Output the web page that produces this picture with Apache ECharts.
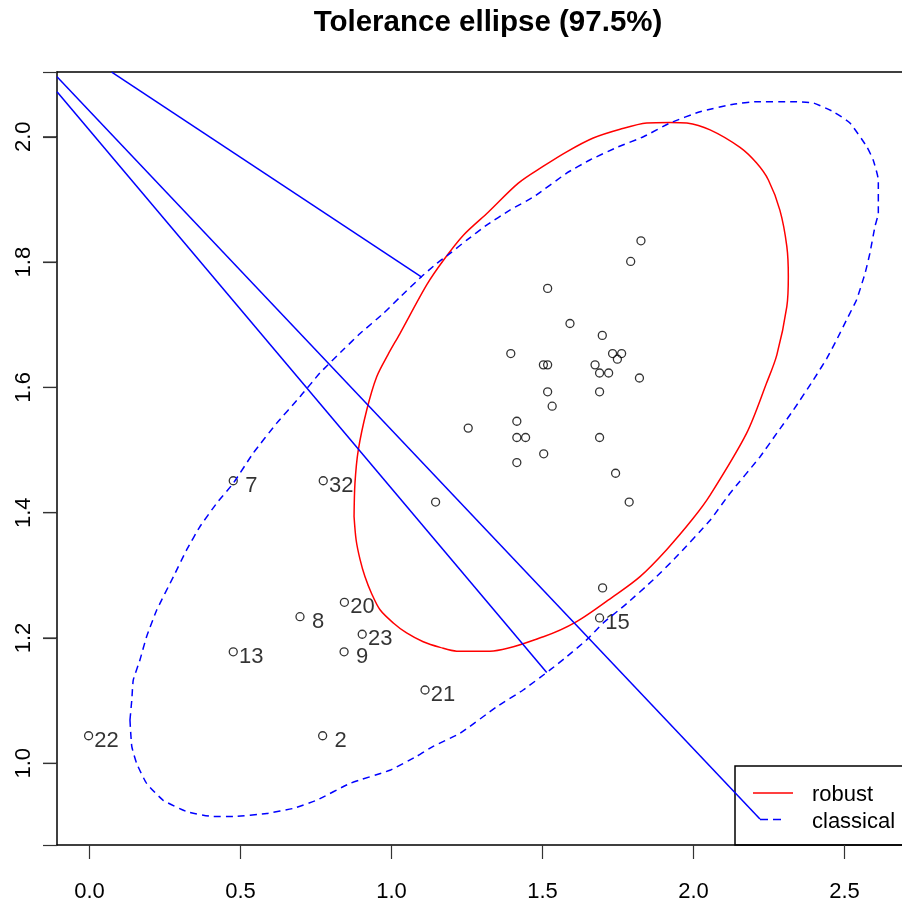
<!DOCTYPE html>
<html>
<head>
<meta charset="utf-8">
<title>Tolerance ellipse (97.5%)</title>
<script src="https://cdn.jsdelivr.net/npm/echarts@6/dist/echarts.min.js"></script>
<style>
html, body { margin: 0; padding: 0; background: #fff; }
#chart { width: 902px; height: 902px; }
</style>
</head>
<body>
<div id="chart"></div>
<script>
// tick positions
const xTicks = [0, 0.5, 1.0, 1.5, 2.0, 2.5];
const yTicks = [1.0, 1.2, 1.4, 1.6, 1.8, 2.0];

// observations without a label
const pointsPlain = [
    [1.826, 1.834], [1.792, 1.801], [1.517, 1.758], [1.591, 1.702], [1.698, 1.683],
    [1.395, 1.654], [1.732, 1.654], [1.762, 1.654], [1.748, 1.645], [1.503, 1.636],
    [1.517, 1.636], [1.674, 1.636], [1.689, 1.623], [1.719, 1.623], [1.821, 1.615],
    [1.517, 1.593], [1.689, 1.593], [1.532, 1.570], [1.415, 1.546], [1.254, 1.535],
    [1.415, 1.520], [1.444, 1.520], [1.689, 1.520], [1.504, 1.494], [1.415, 1.480],
    [1.742, 1.463], [1.146, 1.417], [1.787, 1.417], [1.699, 1.280]
];

// flagged observations: x, y, id
const pointsFlagged = [
    [0.476, 1.451, '7'], [0.774, 1.451, '32'], [0.844, 1.257, '20'], [0.697, 1.234, '8'],
    [0.903, 1.206, '23'], [0.476, 1.178, '13'], [0.843, 1.178, '9'], [1.111, 1.117, '21'],
    [-0.003, 1.044, '22'], [0.772, 1.044, '2'], [1.689, 1.232, '15']
];

// robust ellipse outline
const robustEllipse = [
    [0.876, 1.394], [0.879, 1.447], [0.890, 1.500], [0.918, 1.564], [0.951, 1.617],
    [0.988, 1.652], [1.028, 1.686], [1.117, 1.764], [1.172, 1.803], [1.238, 1.843],
    [1.321, 1.880], [1.420, 1.926], [1.503, 1.953], [1.580, 1.976], [1.668, 1.998],
    [1.757, 2.012], [1.845, 2.022], [1.922, 2.023], [1.978, 2.022], [2.055, 2.011],
    [2.154, 1.983], [2.209, 1.958], [2.248, 1.931], [2.286, 1.883], [2.309, 1.825],
    [2.314, 1.777], [2.309, 1.729], [2.276, 1.652], [2.242, 1.607], [2.176, 1.527],
    [2.055, 1.428], [1.999, 1.391], [1.911, 1.341], [1.823, 1.298], [1.734, 1.266],
    [1.613, 1.226], [1.503, 1.202], [1.326, 1.179], [1.216, 1.179], [1.161, 1.185],
    [1.105, 1.194], [1.050, 1.208], [1.006, 1.224], [0.962, 1.245], [0.934, 1.271],
    [0.912, 1.298], [0.896, 1.325], [0.883, 1.356], [0.876, 1.394]
];

// classical ellipse outline
const classicalEllipse = [
    [0.134, 1.069], [0.140, 1.101], [0.145, 1.133], [0.167, 1.165], [0.189, 1.202],
    [0.223, 1.245], [0.278, 1.298], [0.322, 1.341], [0.366, 1.378], [0.421, 1.415],
    [0.476, 1.447], [0.542, 1.495], [0.620, 1.543], [0.697, 1.585], [0.763, 1.623],
    [0.840, 1.660], [0.896, 1.686], [0.973, 1.718], [1.028, 1.744], [1.100, 1.777],
    [1.150, 1.798], [1.194, 1.814], [1.249, 1.835], [1.315, 1.859], [1.392, 1.883],
    [1.470, 1.904], [1.580, 1.942], [1.657, 1.963], [1.746, 1.983], [1.834, 2.000],
    [1.922, 2.022], [2.022, 2.040], [2.132, 2.052], [2.209, 2.056], [2.331, 2.056],
    [2.397, 2.054], [2.463, 2.040], [2.518, 2.022], [2.574, 1.984], [2.595, 1.963],
    [2.612, 1.931], [2.612, 1.878], [2.601, 1.857], [2.584, 1.814], [2.568, 1.782],
    [2.540, 1.740], [2.507, 1.708], [2.474, 1.676], [2.441, 1.646], [2.397, 1.612],
    [2.331, 1.564], [2.276, 1.527], [2.220, 1.489], [2.121, 1.431], [2.055, 1.388],
    [1.944, 1.330], [1.867, 1.293], [1.779, 1.255], [1.701, 1.224], [1.646, 1.197],
    [1.580, 1.170], [1.525, 1.149], [1.436, 1.117], [1.348, 1.090], [1.227, 1.048],
    [1.138, 1.027], [1.083, 1.011], [0.995, 0.989], [0.863, 0.968], [0.752, 0.941],
    [0.675, 0.928], [0.587, 0.920], [0.476, 0.915], [0.410, 0.915], [0.322, 0.923],
    [0.244, 0.941], [0.189, 0.968], [0.156, 1.000], [0.140, 1.027], [0.134, 1.069]
];

// three straight segments that run across the plot
const segA = [[0.0735, 2.1034], [1.100, 1.776]];
const segB = [[-0.1076, 2.096], [2.220, 0.911]];
const segC = [[-0.1076, 2.072], [1.514, 1.145]];

const FONT = 'Liberation Sans, Arial, Helvetica, sans-serif';
const X_MIN = -0.10762, X_MAX = 2.70033;
const Y_MIN = 0.86959, Y_MAX = 2.10343;

let chart = echarts.init(document.getElementById('chart'));

function seg(data, dashed, color, smooth) {
    return {
        type: 'line',
        data: data,
        symbol: 'none',
        smooth: smooth || false,
        silent: true,
        lineStyle: { color: color, width: 1.5, type: dashed ? [7, 5] : 'solid' }
    };
}

const frameLine = { show: true, onZero: false, lineStyle: { color: '#000', width: 1.5 } };

let option = {
    animation: false,
    backgroundColor: '#fff',
    grid: {
        left: 57, top: 72, right: -3, bottom: 57,
        containLabel: false, outerBoundsMode: 'none'
    },
    xAxis: [
        {
            type: 'value',
            min: X_MIN,
            max: X_MAX,
            axisLine: frameLine,
            splitLine: { show: false },
            axisTick: { show: true, customValues: xTicks, length: 14, lineStyle: { color: '#333', width: 1.2 } },
            axisLabel: {
                customValues: xTicks, margin: 36, fontSize: 22, color: '#000', fontFamily: FONT,
                formatter: v => v.toFixed(1)
            }
        },
        {
            // top frame line only
            type: 'value',
            position: 'top',
            min: X_MIN,
            max: X_MAX,
            axisLine: frameLine,
            splitLine: { show: false },
            axisTick: { show: false },
            axisLabel: { show: false }
        }
    ],
    yAxis: {
        type: 'value',
        position: 'left',
        min: Y_MIN,
        max: Y_MAX,
        axisLine: frameLine,
        splitLine: { show: false },
        axisTick: { show: true, length: 14, lineStyle: { color: '#333', width: 1.2 } },
        axisLabel: {
            customValues: yTicks, margin: 22, rotate: 90, fontSize: 22, color: '#000', fontFamily: FONT,
            formatter: v => v.toFixed(1)
        }
    },
    graphic: [
        {
            id: 'title', type: 'text', x: 488, y: 23,
            style: { text: 'Tolerance ellipse (97.5%)', font: 'bold 29.5px ' + FONT, fill: '#000', textAlign: 'center', textVerticalAlign: 'middle' }
        },
        {
            id: 'legBox', type: 'rect', shape: { x: 735, y: 766, width: 200, height: 79 },
            style: { fill: 'none', stroke: '#000', lineWidth: 1.5 }
        },
        {
            id: 'legRed', type: 'line', shape: { x1: 753, y1: 793, x2: 793, y2: 793 },
            style: { stroke: '#ff0000', lineWidth: 1.5 }
        },
        {
            id: 'legBlue', type: 'line', shape: { x1: 760, y1: 819.5, x2: 786, y2: 819.5 },
            style: { stroke: '#0000ff', lineWidth: 1.5, lineDash: [8, 5] }
        },
        {
            id: 'legT1', type: 'text', x: 812, y: 795,
            style: { text: 'robust', font: '22px ' + FONT, fill: '#000', textVerticalAlign: 'middle' }
        },
        {
            id: 'legT2', type: 'text', x: 812, y: 822,
            style: { text: 'classical', font: '22px ' + FONT, fill: '#000', textVerticalAlign: 'middle' }
        }
    ],
    series: [
        seg(robustEllipse, false, '#ff0000', 0.3),
        seg(classicalEllipse, true, '#0000ff', 0.15),
        seg(segA, false, '#0000ff'),
        seg(segB, false, '#0000ff'),
        seg(segC, false, '#0000ff'),
        {
            type: 'scatter',
            data: pointsPlain,
            symbol: 'circle',
            symbolSize: 8,
            itemStyle: { color: 'rgba(0,0,0,0)', borderColor: '#000', borderWidth: 1.3 }
        },
        {
            type: 'scatter',
            data: pointsFlagged.map(p => ({ name: p[2], value: [p[0], p[1]] })),
            symbol: 'circle',
            symbolSize: 8,
            itemStyle: { color: 'rgba(0,0,0,0)', borderColor: '#000', borderWidth: 1.3 },
            label: {
                show: true, formatter: '{b}', position: 'inside', offset: [18, 5],
                fontSize: 22, color: '#000', fontFamily: FONT
            }
        }
    ]
};

chart.setOption(option);

// y tick marks, placed through the axis scale, then redraw everything at once
let xLeft = chart.convertToPixel({ xAxisIndex: 0 }, X_MIN);
let yTickMarks = yTicks.map((v, i) => {
    let py = chart.convertToPixel({ yAxisIndex: 0 }, v);
    return {
        id: 'ytick' + i, type: 'line',
        shape: { x1: xLeft - 14, y1: py, x2: xLeft, y2: py },
        style: { stroke: '#333', lineWidth: 1.2 }
    };
});
option.graphic = option.graphic.concat(yTickMarks);
chart.setOption(option, true);

window.onresize = () => chart.resize();
</script>
</body>
</html>
